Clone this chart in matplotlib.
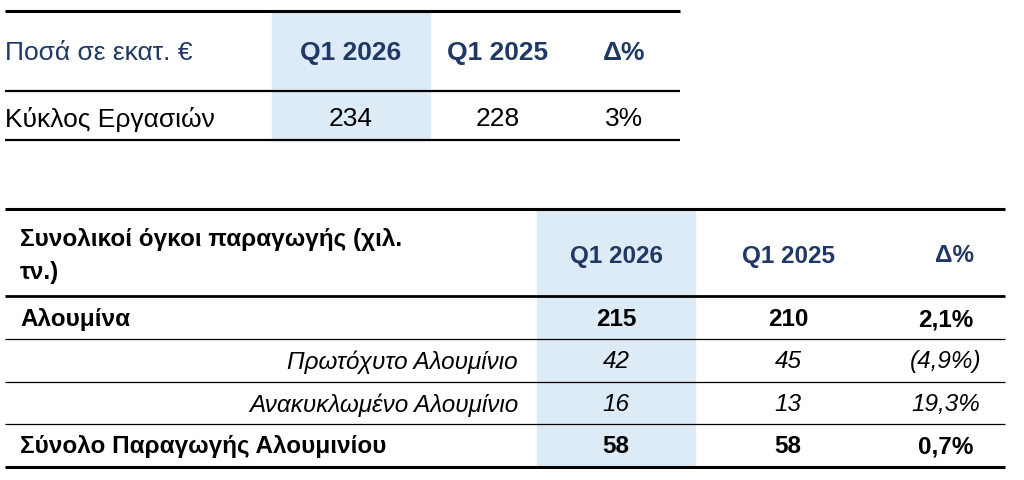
import matplotlib.pyplot as plt
from matplotlib.patches import Rectangle

plt.rcParams['font.family'] = ['Liberation Sans', 'DejaVu Sans']

BLUE = "#1F3864"
HL = "#DDEBF7"

# --- Daten ---
kopf_oben = ["Q1 2026", "Q1 2025", "Δ%"]
umsatz_label = "Κύκλος Εργασιών"
umsatz_werte = ["234", "228", "3%"]

kopf_unten = ["Q1 2026", "Q1 2025", "Δ%"]
zeilen_labels = ["Αλουμίνα", "Πρωτόχυτο Αλουμίνιο", "Ανακυκλωμένο Αλουμίνιο",
                 "Σύνολο Παραγωγής Αλουμινίου"]
zeilen_werte = [["215", "210", "2,1%"], ["42", "45", "(4,9%)"],
                ["16", "13", "19,3%"], ["58", "58", "0,7%"]]
zeilen_fett = [True, False, False, True]

fig = plt.figure(figsize=(10.24, 4.81), dpi=100)
ax = fig.add_axes([0, 0, 1, 1])
ax.set_xlim(0, 1024)
ax.set_ylim(481, 0)
ax.axis("off")

def linie(y, x0, x1, lw):
    ax.plot([x0, x1], [y, y], color="black", lw=lw, solid_capstyle="butt")

# === obere Tabelle ===
ax.add_patch(Rectangle((272, 12), 158, 129, color=HL, zorder=0))
linie(12, 5, 680, 2.2)
linie(92, 5, 680, 1.6)
linie(141, 5, 680, 1.6)
ax.text(5, 53, "Ποσά σε εκατ. €", color=BLUE, fontsize=19, va="center")
for x, t in zip([351, 498, 624], kopf_oben):
    ax.text(x, 53, t, color=BLUE, fontsize=19, fontweight="bold", ha="center", va="center")
ax.text(5, 119, umsatz_label, fontsize=19, va="center")
for x, t in zip([351, 498, 624], umsatz_werte):
    ax.text(x, 119, t, fontsize=19, ha="center", va="center")

# === untere Tabelle ===
ax.add_patch(Rectangle((537, 210), 158, 258, color=HL, zorder=0))
linie(210, 5, 1005, 2.2)
linie(297, 5, 1005, 2.0)
for y in [340, 383, 425]:
    linie(y, 5, 1005, 0.9)
linie(468, 5, 1005, 2.2)

FS = 17.5
ax.text(20, 240, "Συνολικοί όγκοι παραγωγής (χιλ.", fontsize=FS, fontweight="bold", va="center")
ax.text(20, 273, "τν.)", fontsize=FS, fontweight="bold", va="center")
spalten = [616, 788, 946]
for x, t in zip([616, 788, 955], kopf_unten):
    ax.text(x, 256, t, color=BLUE, fontsize=FS, fontweight="bold", ha="center", va="center")

ys = [320, 362, 405, 447]
for y, lab, werte, fett in zip(ys, zeilen_labels, zeilen_werte, zeilen_fett):
    w = "bold" if fett else "normal"
    st = "normal" if fett else "italic"
    if fett:
        ax.text(20, y, lab, fontsize=FS, fontweight=w, va="center")
    else:
        ax.text(518, y, lab, fontsize=FS, style=st, ha="right", va="center")
    for x, t in zip(spalten, werte):
        ax.text(x, y, t, fontsize=FS, fontweight=w, style=st, ha="center", va="center")

fig.savefig("out.png", dpi=100)
